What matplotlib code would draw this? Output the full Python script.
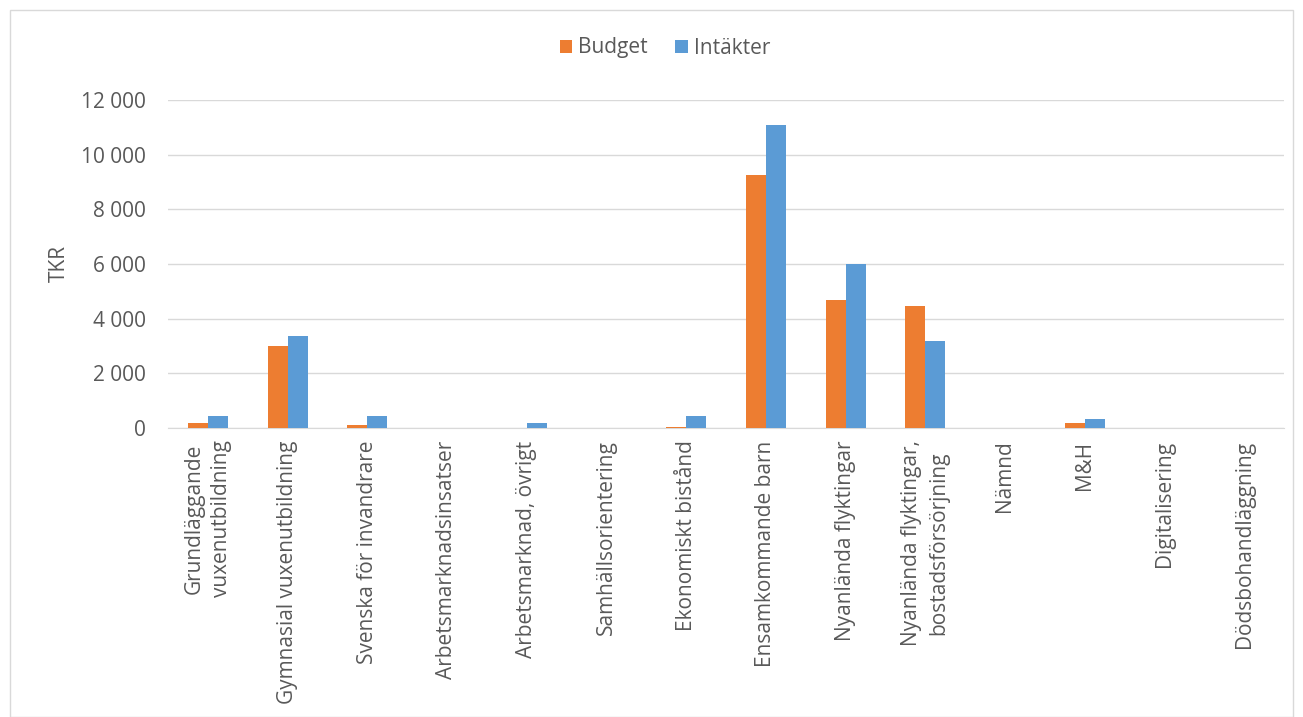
import matplotlib
matplotlib.use("Agg")
import matplotlib.pyplot as plt
import numpy as np
from matplotlib.ticker import FuncFormatter
from matplotlib.patches import Rectangle

categories = ["Grundläggande\nvuxenutbildning", "Gymnasial vuxenutbildning", "Svenska för invandrare",
              "Arbetsmarknadsinsatser", "Arbetsmarknad, övrigt", "Samhällsorientering",
              "Ekonomiskt bistånd", "Ensamkommande barn", "Nyanlända flyktingar",
              "Nyanlända flyktingar,\nbostadsförsörjning", "Nämnd", "M&H", "Digitalisering",
              "Dödsbohandläggning"]
budget = [170, 3000, 110, 0, 0, 0, 50, 9250, 4700, 4450, 0, 180, 0, 0]
intakter = [450, 3370, 430, 0, 200, 0, 445, 11100, 6000, 3200, 0, 320, 0, 0]
yticks = [0, 2000, 4000, 6000, 8000, 10000, 12000]

plt.rcParams['font.family'] = ['Open Sans', 'DejaVu Sans']
txt = '#595959'
fs = 15

fig = plt.figure(figsize=(13.03, 7.17), dpi=100)
fig.patches.append(Rectangle((10/1303, 0), 1283/1303, 1 - 10/717, transform=fig.transFigure,
                             fill=False, edgecolor='#d9d9d9', lw=1))
ax = fig.add_axes([168/1303, 1 - 428/717, (1284-168)/1303, (428-100)/717])

x = np.arange(len(categories))
w = 0.25
ax.bar(x - w/2, budget, w, color='#ed7d31', label='Budget', zorder=3)
ax.bar(x + w/2, intakter, w, color='#5b9bd5', label='Intäkter', zorder=3)

ax.set_xlim(-0.5, len(categories) - 0.5)
ax.set_ylim(0, 12000)
ax.set_yticks(yticks)
ax.yaxis.set_major_formatter(FuncFormatter(lambda v, p: f"{int(v):,}".replace(",", " ")))
ax.grid(axis='y', color='#d9d9d9', lw=1, zorder=0)
for s in ['top', 'right', 'left']:
    ax.spines[s].set_visible(False)
ax.spines['bottom'].set_color('#d9d9d9')
ax.tick_params(axis='y', length=0, labelsize=fs, colors=txt, pad=16)
ax.tick_params(axis='x', length=0, labelsize=fs, colors=txt, pad=9)
ax.set_xticks(x)
ax.set_xticklabels(categories, rotation=90, ha='center', va='top', multialignment='center',
                   linespacing=1.4)
ax.set_ylabel('TKR', color=txt, fontsize=fs, labelpad=8)

leg = fig.legend(loc='center', bbox_to_anchor=(665/1303, 1 - 48/717),
                 ncol=2, frameon=False, fontsize=fs, labelcolor=txt, handlelength=0.6, handleheight=0.6,
                 handletextpad=0.3, columnspacing=1.3, borderaxespad=0)

fig.savefig("out.png", dpi=100)
